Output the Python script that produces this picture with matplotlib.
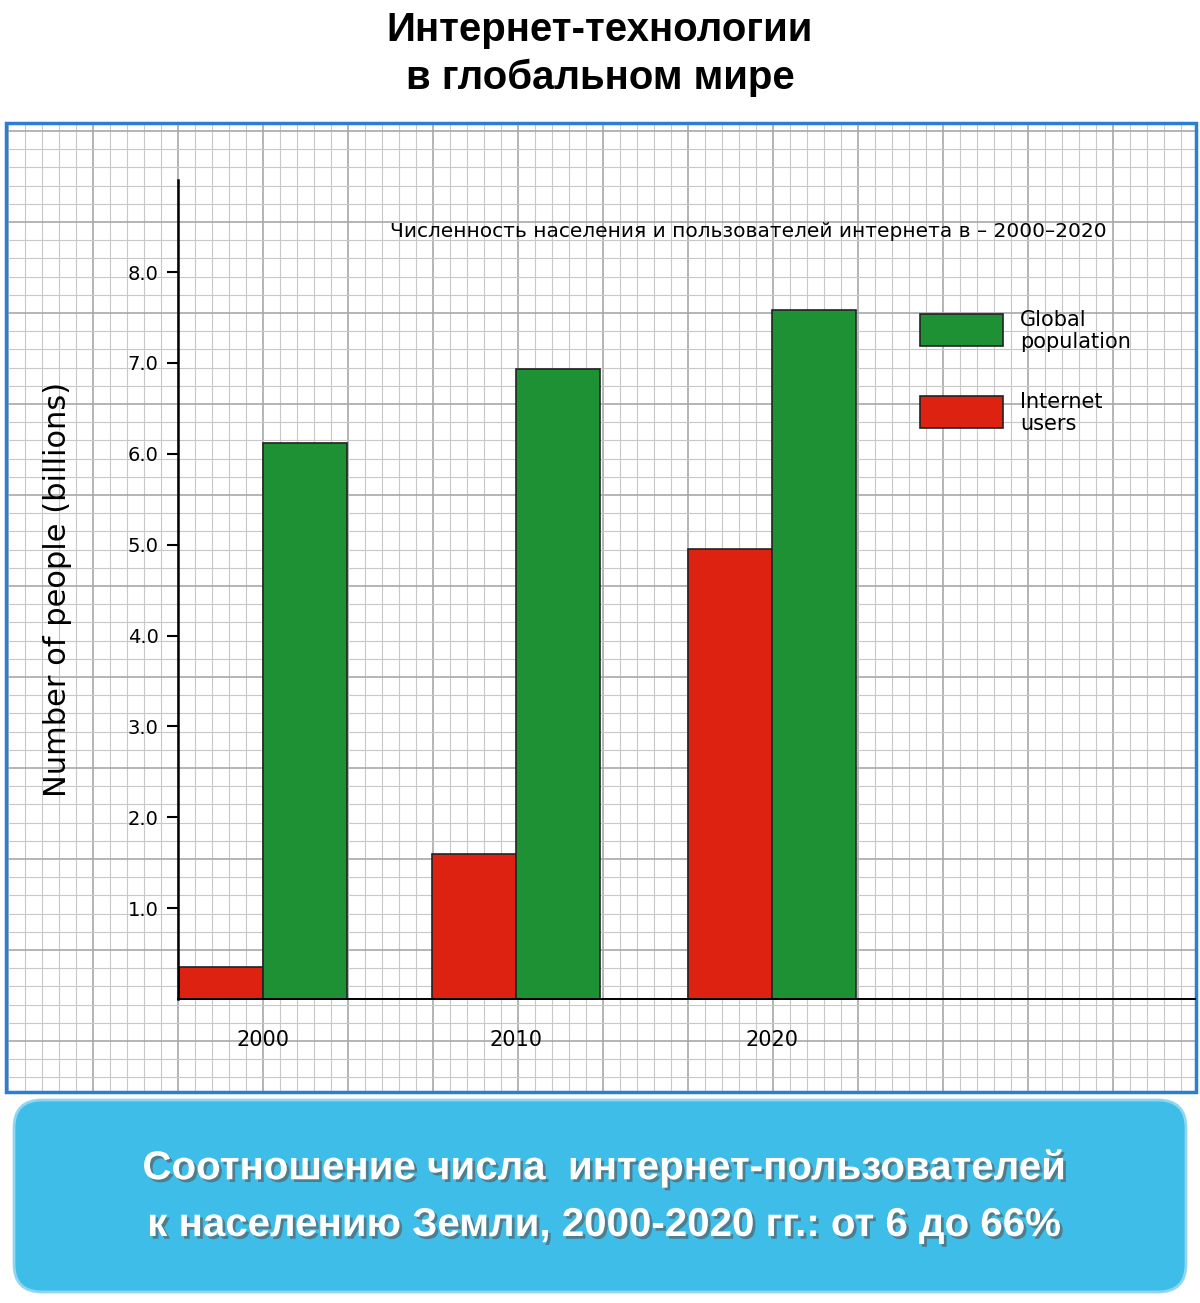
import matplotlib.pyplot as plt
import numpy as np
from matplotlib.patches import FancyBboxPatch, Rectangle
import matplotlib.patheffects as pe

years = ["2000", "2010", "2020"]
internet_users = [0.35, 1.6, 4.95]
global_population = [6.12, 6.93, 7.58]
y_ticks = [1.0, 2.0, 3.0, 4.0, 5.0, 6.0, 7.0, 8.0]

W, H = 1200, 1303
fig = plt.figure(figsize=(W / 100, H / 100), dpi=100)

# background, pixel coordinates
bg = fig.add_axes([0, 0, 1, 1])
bg.set_xlim(0, W)
bg.set_ylim(H, 0)
bg.axis("off")

# grid paper
px0, px1, py0, py1 = 6, 1196, 123, 1092
for i, x in enumerate(np.arange(8, px1, 17)):
    bg.plot([x, x], [py0, py1], color="#c8c8c8" if i % 5 else "#a8a8a8", lw=0.8 if i % 5 else 1.2, zorder=1)
for i, y in enumerate(np.arange(131, py1, 18.2)):
    bg.plot([px0, px1], [y, y], color="#c8c8c8" if i % 5 else "#a8a8a8", lw=0.8 if i % 5 else 1.2, zorder=1)
bg.add_patch(Rectangle((px0, py0), px1 - px0, py1 - py0, fill=False, ec="#2a7fd0", lw=2.5, zorder=2))

bg.text(600, 30, "Интернет-технологии", ha="center", va="center", fontsize=29, fontweight="bold",
        family="Liberation Sans")
bg.text(600, 78, "в глобальном мире", ha="center", va="center", fontsize=29, fontweight="bold",
        family="Liberation Sans")

bg.add_patch(FancyBboxPatch((14, 1100), 1172, 192, boxstyle="round,pad=0,rounding_size=28",
                            fc="#3fbde9", ec="#8fd6f2", lw=2, zorder=3))
shadow = [pe.SimplePatchShadow(offset=(2, -2), shadow_rgbFace="#555555", alpha=0.6), pe.Normal()]
for y, s in [(1168, "Соотношение числа  интернет-пользователей"),
             (1225, "к населению Земли, 2000-2020 гг.: от 6 до 66%")]:
    bg.text(603, y, s, ha="center", va="center", fontsize=29, fontweight="bold", color="white",
            family="Liberation Sans", path_effects=shadow, zorder=4)

# chart axes: x from 178 to 1195 px, y from 999 (0) up to 180 px
ax = fig.add_axes([178 / W, 1 - 999 / H, (1195 - 178) / W, (999 - 180) / H])
ax.patch.set_alpha(0)
ax.set_xlim(0, 1017)
ax.set_ylim(0, (999 - 180) / 90.86)
centers = np.array([85, 338, 594])
bw = 84
ax.bar(centers - bw / 2, internet_users, width=bw, color="#dd2211", ec="#222222", lw=1.2)
ax.bar(centers + bw / 2, global_population, width=bw, color="#1e9135", ec="#222222", lw=1.2)
for s in ["top", "right"]:
    ax.spines[s].set_visible(False)
ax.spines["left"].set_linewidth(1.8)
ax.spines["bottom"].set_linewidth(1.4)
ax.set_yticks(y_ticks, [f"{v:.1f}" for v in y_ticks], fontsize=14)
ax.tick_params(axis="y", length=8, width=1.5, pad=6)
ax.set_xticks(centers, years, fontsize=15)
ax.tick_params(axis="x", length=0, pad=22)
ax.set_ylabel("Number of people (billions)", fontsize=22, labelpad=40)
ax.text(570, 8.45, "Численность населения и пользователей интернета в – 2000–2020",
        ha="center", va="center", fontsize=14.5)

# legend
ax.add_patch(Rectangle((742, (999 - 346) / 90.86), 83, 32 / 90.86, fc="#1e9135", ec="#222222", lw=1.2))
ax.add_patch(Rectangle((742, (999 - 428) / 90.86), 83, 32 / 90.86, fc="#dd2211", ec="#222222", lw=1.2))
ax.text(842, (999 - 331) / 90.86, "Global\npopulation", va="center", fontsize=15, linespacing=1.1)
ax.text(842, (999 - 413) / 90.86, "Internet\nusers", va="center", fontsize=15, linespacing=1.1)

fig.savefig("out.png", dpi=100)
